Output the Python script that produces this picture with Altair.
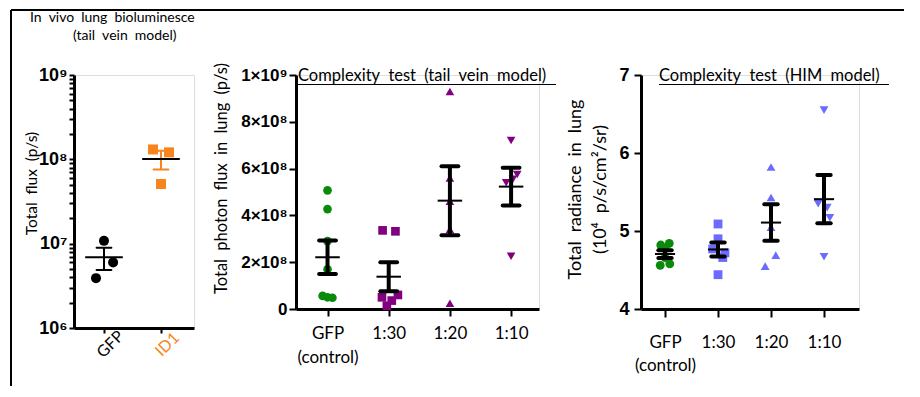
import altair as alt
import pandas as pd

SP = "\u2002"  # the reference shows a wide blank glyph where spaces are

# ---------------- data ----------------
# Panel 1: In vivo lung bioluminescence (log scale)
P1_GROUPS = ["GFP", "ID1"]
P1_GFP = [1.08e7, 6.0e6, 3.9e6]
P1_ID1 = [1.31e8, 1.21e8, 5.1e7]
P1_GFP_JIT = [0.0, 0.16, -0.14]
P1_ID1_JIT = [-0.14, 0.14, 0.0]

# Panel 2: Complexity test (tail vein model)
P2_CATS = [["GFP", "(control)"], "1:30", "1:20", "1:10"]
P2_GFP = [5.07e8, 4.27e8, 2.9e8, 1.7e8, 5.6e7, 5.0e7, 4.8e7]
P2_130 = [3.36e8, 3.32e8, 6.0e7, 5.0e7, 3.6e7, 1.4e7]
P2_120 = [9.3e8, 5.6e8, 4.6e8, 3.4e8, 2.5e7]
P2_110 = [7.2e8, 5.75e8, 5.55e8, 5.4e8, 2.25e8]
P2_GFP_JIT = [0, 0, 0, 0, -0.08, 0, 0.08]
P2_130_JIT = [-0.1, 0.11, 0.15, -0.11, 0.05, -0.03]
P2_120_JIT = [0, 0, 0, 0, 0]
P2_110_JIT = [0, 0.1, 0.03, -0.08, 0]
P2_YTICKS = [0, 2e8, 4e8, 6e8, 8e8, 1e9]
P2_YLABELS = ["0", "2×10⁸", "4×10⁸", "6×10⁸", "8×10⁸", "1×10⁹"]

# Panel 3: Complexity test (HIM model)
P3_CATS = [["GFP", "(control)"], "1:30", "1:20", "1:10"]
P3_GFP = [4.84, 4.82, 4.77, 4.66, 4.58, 4.56]
P3_130 = [5.09, 4.90, 4.77, 4.72, 4.66, 4.44]
P3_120 = [5.82, 5.43, 5.05, 4.69, 4.55]
P3_110 = [6.55, 5.35, 5.30, 5.17, 4.67]
P3_GFP_JIT = [0.08, -0.08, 0, 0, 0.09, -0.09]
P3_130_JIT = [0, 0, -0.1, 0.13, 0.09, 0]
P3_120_JIT = [0, 0, 0, 0.09, -0.11]
P3_110_JIT = [0, -0.11, 0.06, 0.11, 0]
P3_YTICKS = [4, 5, 6, 7]

P1_TITLE = [SP.join(["In", "vivo", "lung", "bioluminesce"]), SP.join(["(tail", "vein", "model)"])]
P1_YTITLE = SP.join(["Total", "flux", "(p/s)"])
P2_TITLE = SP.join(["Complexity", "test", "(tail", "vein", "model)"])
P2_YTITLE = SP.join(["Total", "photon", "flux", "in", "lung", "(p/s)"])
P3_TITLE = SP.join(["Complexity", "test", "(HIM", "model)"])
P3_YTITLE = [SP.join(["Total", "radiance", "in", "lung"]), "(10⁴" + SP + "p/s/cm²/sr)"]

GREEN = "#0a8a0a"
PURPLE = "#800080"
BLUE = "#6b6bff"
ORANGE = "#f7841c"

SANS = "Lato"
BOLD = "Liberation Sans"


def build_df(vals, jits):
    rows = []
    for i, (vs, js) in enumerate(zip(vals, jits)):
        for v, j in zip(vs, js):
            rows.append({"idx": i, "value": v, "jit": j})
    return pd.DataFrame(rows)


def ternary(values, labels):
    expr = "''"
    for v, l in reversed(list(zip(values, labels))):
        if isinstance(l, list):
            lab = "[" + ", ".join("'%s'" % s for s in l) + "]"
        else:
            lab = "'%s'" % l
        expr = "datum.value == %r ? %s : (%s)" % (v, lab, expr)
    return expr


def one():
    return pd.DataFrame({"a": [0]})


def panel(df, key, xscale, xaxis, yscale, yaxis, colors, shapes, psize,
          bar_w, cap_w, mean_w, bar_colored, extra):
    n = len(colors)
    cdom = list(range(n))
    gf = "g" + key
    df = df.rename(columns={"idx": gf})
    X = lambda f: alt.X(f, type="quantitative", scale=xscale, axis=xaxis)
    Y = lambda f: alt.Y(f, type="quantitative", scale=yscale, axis=yaxis)
    cenc = alt.Color(gf + ":N", scale=alt.Scale(domain=cdom, range=colors), legend=None)
    pts = alt.Chart(df).transform_calculate(xj="datum.%s + datum.jit" % gf).mark_point(
        filled=True, opacity=1, size=psize, strokeWidth=0
    ).encode(
        x=X("xj"), y=Y("value"),
        color=cenc,
        shape=alt.Shape(gf + ":N", scale=alt.Scale(domain=cdom, range=shapes), legend=None),
    )
    stats = alt.Chart(df).transform_aggregate(
        m="mean(value)", sd="stdev(value)", n="count()", groupby=[gf]
    ).transform_calculate(
        lo="datum.m - datum.sd / sqrt(datum.n)",
        hi="datum.m + datum.sd / sqrt(datum.n)",
        ml="datum.%s - %f" % (gf, mean_w), mr="datum.%s + %f" % (gf, mean_w),
        cl="datum.%s - %f" % (gf, cap_w), cr="datum.%s + %f" % (gf, cap_w),
    )
    bcol = cenc if bar_colored else alt.value("black")
    vbar = stats.mark_rule(strokeWidth=bar_w, strokeCap="butt").encode(
        x=X(gf), y=Y("lo"), y2="hi:Q", color=bcol)
    cap_hi = stats.mark_rule(strokeWidth=bar_w, strokeCap="round").encode(
        x=X("cl"), x2="cr:Q", y=Y("hi"), color=bcol)
    cap_lo = stats.mark_rule(strokeWidth=bar_w, strokeCap="round").encode(
        x=X("cl"), x2="cr:Q", y=Y("lo"), color=bcol)
    mean = stats.mark_rule(strokeWidth=2, color="black").encode(
        x=X("ml"), x2="mr:Q", y=Y("m"))
    return alt.layer(pts, vbar, cap_hi, cap_lo, mean, *extra)


def axis_common(**kw):
    base = dict(domainColor="black", domainWidth=3, tickColor="black", tickWidth=2,
                grid=False, labelColor="black", labelFlush=False, labelOverlap=False,
                titleColor="black", titleFont=SANS, titleFontWeight="normal")
    base.update(kw)
    return alt.Axis(**base)


# ---------------- panel 1 ----------------
df1 = build_df([P1_GFP, P1_ID1], [P1_GFP_JIT, P1_ID1_JIT])
p1_ticks = [k * 10 ** e for e in range(6, 9) for k in range(1, 10)] + [10 ** 9]
p1_major = [10 ** 6, 10 ** 7, 10 ** 8, 10 ** 9]
p1_ylab = ["10⁶", "10⁷", "10⁸", "10⁹"]
x1_axis = axis_common(
    values=[0, 1], labelExpr=ternary([0, 1], P1_GROUPS), title=None,
    labelAngle=315, labelAlign="center", labelBaseline="middle",
    labelPadding=11, labelOffset=6, labelFont=SANS, labelFontSize=16,
    tickSize=5,
    labelColor={"condition": {"test": "datum.value == 1", "value": ORANGE}, "value": "black"},
)
y1_axis = axis_common(
    values=p1_ticks, labelExpr=ternary(p1_major, p1_ylab), title=P1_YTITLE,
    titleX=-43, titleY=108, titleAngle=270, titleAlign="center", titleBaseline="middle",
    titleFontSize=15.5, labelFont=BOLD, labelFontSize=18, labelFontWeight="bold",
    labelPadding=2, tickSize=5,
)
extra1 = [
    alt.Chart(one()).mark_rule(strokeWidth=2, color="black").encode(
        x=alt.value(-63), y=alt.value(-65), y2=alt.value(311)),
    alt.Chart(one()).mark_rule(strokeWidth=2, color="black").encode(
        x=alt.value(-63), x2=alt.value(830), y=alt.value(-65)),
    alt.Chart(pd.DataFrame({"t": [P1_TITLE[0]]})).mark_text(
        align="left", baseline="middle", font=SANS, fontSize=14, color="black").encode(
        x=alt.value(-44), y=alt.value(-57), text="t:N"),
    alt.Chart(pd.DataFrame({"t": [P1_TITLE[1]]})).mark_text(
        align="left", baseline="middle", font=SANS, fontSize=14, color="black").encode(
        x=alt.value(-1), y=alt.value(-39), text="t:N"),
]
p1 = panel(
    df1, "1",
    alt.Scale(domain=[-0.526, 1.579], nice=False, zero=False), x1_axis,
    alt.Scale(type="log", domain=[1e6, 1e9], nice=False), y1_axis,
    ["black", ORANGE], ["circle", "square"], 100,
    2, 0.13, 0.33, True, extra1,
).properties(width=120, height=253)

# ---------------- panel 2 ----------------
df2 = build_df([P2_GFP, P2_130, P2_120, P2_110], [P2_GFP_JIT, P2_130_JIT, P2_120_JIT, P2_110_JIT])
x2_axis = axis_common(
    values=[0, 1, 2, 3], labelExpr=ternary([0, 1, 2, 3], P2_CATS), title=None,
    labelFont=SANS, labelFontSize=17, labelPadding=9, labelLineHeight=24, tickSize=7,
)
y2_axis = axis_common(
    values=P2_YTICKS, labelExpr=ternary(P2_YTICKS, P2_YLABELS), title=P2_YTITLE,
    titleX=-75, titleY=103, titleAngle=270, titleAlign="center", titleBaseline="middle",
    titleFontSize=16.5, labelFont=BOLD, labelFontSize=17, labelFontWeight="bold",
    labelPadding=2, tickSize=7,
)
extra2 = [
    alt.Chart(pd.DataFrame({"t": [P2_TITLE]})).mark_text(
        align="left", baseline="alphabetic", font=SANS, fontSize=16.5, color="black").encode(
        x=alt.value(2), y=alt.value(6), text="t:N"),
    alt.Chart(one()).mark_rule(strokeWidth=1, color="black").encode(
        x=alt.value(2), x2=alt.value(260), y=alt.value(9.5)),
]
p2 = panel(
    df2, "2",
    alt.Scale(domain=[-0.515, 3.456], nice=False, zero=False), x2_axis,
    alt.Scale(domain=[0, 1e9], nice=False), y2_axis,
    [GREEN, PURPLE, PURPLE, PURPLE], ["circle", "square", "triangle-up", "triangle-down"], 75,
    4, 0.137, 0.2, False, extra2,
).properties(width=243, height=234)

# ---------------- panel 3 ----------------
df3 = build_df([P3_GFP, P3_130, P3_120, P3_110], [P3_GFP_JIT, P3_130_JIT, P3_120_JIT, P3_110_JIT])
x3_axis = axis_common(
    values=[0, 1, 2, 3], labelExpr=ternary([0, 1, 2, 3], P3_CATS), title=None,
    labelFont=SANS, labelFontSize=17, labelPadding=17, labelLineHeight=23, tickSize=8,
)
y3_axis = axis_common(
    values=P3_YTICKS, format="d", title=P3_YTITLE,
    titleX=-66, titleY=114, titleAngle=270, titleAlign="center", titleBaseline="middle",
    titleFontSize=18, titleLineHeight=25,
    labelFont=BOLD, labelFontSize=18, labelFontWeight="bold", labelPadding=5, tickSize=7,
)
extra3 = [
    alt.Chart(pd.DataFrame({"t": [P3_TITLE]})).mark_text(
        align="left", baseline="alphabetic", font=SANS, fontSize=16.5, color="black").encode(
        x=alt.value(18), y=alt.value(6), text="t:N"),
    alt.Chart(one()).mark_rule(strokeWidth=1, color="black").encode(
        x=alt.value(18), x2=alt.value(248), y=alt.value(9.5)),
]
p3 = panel(
    df3, "3",
    alt.Scale(domain=[-0.453, 3.66], nice=False, zero=False), x3_axis,
    alt.Scale(domain=[4, 7], nice=False, zero=False), y3_axis,
    [GREEN, BLUE, BLUE, BLUE], ["circle", "square", "triangle-up", "triangle-down"], 78,
    4, 0.126, 0.19, False, extra3,
).properties(width=218, height=234)

chart = alt.HConcatChart(
    hconcat=[p1, p2, p3], spacing=102, bounds="flush",
    padding={"left": 1, "top": 0, "right": 0, "bottom": 0},
).resolve_scale(color="independent", shape="independent").configure_view(
    stroke=None
).configure(background="white")

chart.save("out.html", embed_options={"renderer": "svg", "actions": False})
